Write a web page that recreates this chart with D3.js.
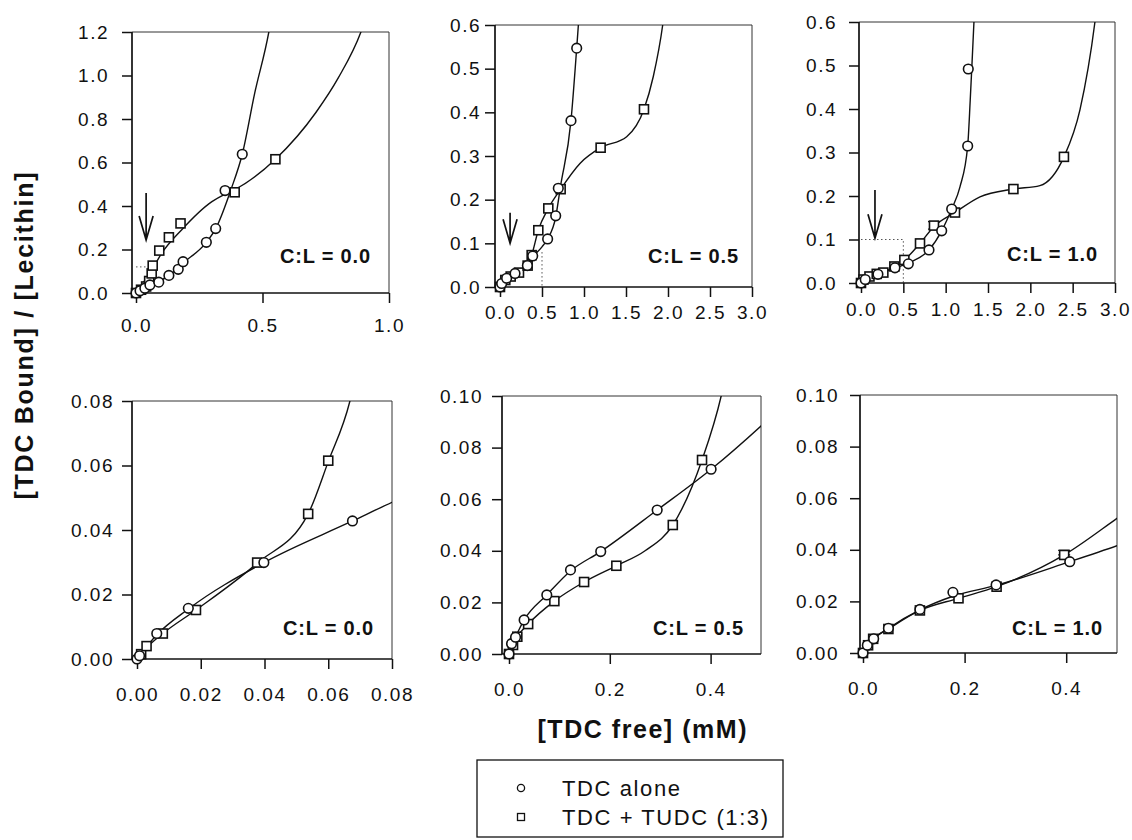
<!DOCTYPE html>
<html><head><meta charset="utf-8">
<script src="https://cdn.jsdelivr.net/npm/d3@7"></script>
<style>
body{margin:0;background:#fff;}
svg text{font-family:"Liberation Sans",Arial,Helvetica,sans-serif;fill:#111;}
</style></head><body>
<svg id="chart" width="1132" height="840"></svg>
<script>
// ---------- DATA ----------
// [TDC free] (mM), [TDC bound]/[Lecithin]
const p1Alone = [[0,0],[0.016,0.01],[0.035,0.022],[0.055,0.037],[0.09,0.05],[0.13,0.081],[0.167,0.109],[0.186,0.144],[0.278,0.233],[0.315,0.296],[0.352,0.471],[0.42,0.638]];
const p1Mixed = [[0,0],[0.02,0.015],[0.04,0.03],[0.052,0.055],[0.062,0.09],[0.066,0.126],[0.092,0.195],[0.13,0.256],[0.176,0.32],[0.39,0.463],[0.551,0.615]];
const p1AloneFit = [[0,0],[0.055,0.035],[0.13,0.08],[0.186,0.138],[0.278,0.233],[0.315,0.296],[0.377,0.481],[0.42,0.638],[0.469,0.918],[0.525,1.2],[0.54,1.3]];
const p1MixedFit = [[0,0],[0.03,0.05],[0.06,0.1],[0.1,0.18],[0.18,0.29],[0.3,0.42],[0.352,0.455],[0.39,0.475],[0.551,0.615],[0.711,0.83],[0.8,0.99],[0.889,1.2],[0.91,1.27]];

const p2Alone = [[0,0],[0.02,0.008],[0.079,0.02],[0.179,0.031],[0.326,0.049],[0.389,0.071],[0.567,0.11],[0.663,0.163],[0.694,0.226],[0.845,0.381],[0.913,0.547]];
const p2Mixed = [[0,0],[0.063,0.016],[0.127,0.024],[0.226,0.033],[0.329,0.049],[0.377,0.073],[0.456,0.13],[0.575,0.18],[0.722,0.224],[1.198,0.319],[1.714,0.407]];
const p2AloneFit = [[0,0],[0.08,0.018],[0.18,0.03],[0.33,0.05],[0.39,0.068],[0.5,0.092],[0.567,0.11],[0.663,0.16],[0.72,0.23],[0.845,0.381],[0.913,0.547],[0.933,0.6],[0.95,0.65]];
const p2MixedFit = [[0,0],[0.063,0.015],[0.127,0.023],[0.226,0.033],[0.329,0.05],[0.377,0.073],[0.456,0.13],[0.575,0.18],[0.722,0.224],[0.952,0.283],[1.198,0.319],[1.508,0.344],[1.714,0.407],[1.825,0.482],[1.937,0.6],[1.97,0.65]];

const p3Alone = [[0,0],[0.05,0.008],[0.2,0.02],[0.401,0.035],[0.559,0.044],[0.803,0.076],[0.953,0.12],[1.071,0.17],[1.26,0.315],[1.267,0.492]];
const p3Mixed = [[0,0],[0.03,0.008],[0.1,0.015],[0.186,0.021],[0.264,0.024],[0.394,0.038],[0.512,0.053],[0.697,0.091],[0.862,0.132],[1.11,0.162],[1.8,0.216],[2.397,0.29]];
const p3AloneFit = [[0,0],[0.05,0.008],[0.2,0.02],[0.401,0.034],[0.559,0.046],[0.803,0.076],[0.953,0.12],[1.071,0.17],[1.169,0.221],[1.26,0.315],[1.29,0.42],[1.31,0.5],[1.334,0.6],[1.35,0.67]];
const p3MixedFit = [[0,0],[0.03,0.008],[0.1,0.015],[0.186,0.021],[0.264,0.025],[0.394,0.038],[0.512,0.053],[0.697,0.091],[0.862,0.13],[1.11,0.162],[1.405,0.198],[1.8,0.216],[2.113,0.224],[2.397,0.29],[2.586,0.398],[2.763,0.6],[2.8,0.66]];

const p4Alone = [[0,0],[0.0008,0.001],[0.0062,0.0079],[0.0161,0.0157],[0.0398,0.0299],[0.0676,0.0428]];
const p4Mixed = [[0.0013,0.0015],[0.003,0.004],[0.0081,0.0079],[0.0185,0.0152],[0.0377,0.0299],[0.0537,0.045],[0.06,0.0615]];
const p4AloneFit = [[0,0],[0.0062,0.0075],[0.0161,0.0155],[0.0398,0.0299],[0.0676,0.0428],[0.08,0.0486],[0.082,0.0495]];
const p4MixedFit = [[0,0],[0.003,0.0035],[0.0081,0.0079],[0.0185,0.0152],[0.0377,0.0297],[0.0537,0.045],[0.06,0.0612],[0.0668,0.08],[0.068,0.085]];

const p5Alone = [[0,0],[0.005,0.004],[0.013,0.0065],[0.03,0.0132],[0.075,0.0229],[0.122,0.0326],[0.182,0.0397],[0.294,0.0558],[0.401,0.0716]];
const p5Mixed = [[0,0],[0.008,0.0035],[0.0165,0.0067],[0.038,0.0116],[0.09,0.0205],[0.149,0.0279],[0.213,0.0342],[0.325,0.05],[0.383,0.0752]];
const p5AloneFit = [[0,0],[0.005,0.004],[0.013,0.0068],[0.03,0.0132],[0.075,0.0229],[0.122,0.0322],[0.182,0.0397],[0.294,0.0558],[0.401,0.0716],[0.5,0.0884],[0.52,0.092]];
const p5MixedFit = [[0,0],[0.008,0.0035],[0.0165,0.0067],[0.038,0.0116],[0.09,0.0205],[0.149,0.0279],[0.213,0.0342],[0.27,0.04],[0.325,0.05],[0.383,0.0752],[0.421,0.1],[0.43,0.108]];

const p6Alone = [[0,0],[0.0085,0.003],[0.021,0.0055],[0.05,0.0096],[0.112,0.0169],[0.177,0.0235],[0.262,0.0264],[0.407,0.0354]];
const p6Mixed = [[0,0],[0.01,0.003],[0.02,0.0055],[0.05,0.0093],[0.112,0.0165],[0.188,0.0212],[0.263,0.0257],[0.396,0.038]];
const p6AloneFit = [[0,0],[0.0085,0.003],[0.021,0.0055],[0.05,0.0096],[0.112,0.0167],[0.177,0.022],[0.262,0.0262],[0.407,0.0354],[0.5,0.0416],[0.52,0.043]];
const p6MixedFit = [[0,0],[0.01,0.003],[0.02,0.0055],[0.05,0.0093],[0.112,0.0165],[0.188,0.0212],[0.263,0.0257],[0.396,0.038],[0.5,0.0522],[0.52,0.055]];

// error bars on mixed series: [x, low, high]
const p3MixedErr = [[0.862,0.124,0.141]];
const p6MixedErr = [[0.396,0.038,0.0398]];

// arrows: [x, yStart, yTip]
const p1Arrow = [0.04,0.46,0.244];
const p2Arrow = [0.12,0.17,0.10];
const p3Arrow = [0.165,0.214,0.103];

// dotted guide lines
const p1Guide = [[0,0.12],[0.07,0.12]];
const p2Guide = [[0.5,0.08],[0.5,0]];
const p3Guide = [[0,0.1],[0.5,0.1],[0.5,0]];

// tick values
const xTicksTopLeft = [0,0.5,1.0];
const xTicksTopWide = [0,0.5,1.0,1.5,2.0,2.5,3.0];
const yTicksTopLeft = [0,0.2,0.4,0.6,0.8,1.0,1.2];
const yTicksTop = [0,0.1,0.2,0.3,0.4,0.5,0.6];
const xTicksBottomLeft = [0,0.02,0.04,0.06,0.08];
const yTicksBottomLeft = [0,0.02,0.04,0.06,0.08];
const xTicksBottom = [0,0.2,0.4];
const yTicksBottom = [0,0.02,0.04,0.06,0.08,0.10];

const clLabels = ["C:L = 0.0","C:L = 0.5","C:L = 1.0","C:L = 0.0","C:L = 0.5","C:L = 1.0"];
const seriesNames = ["TDC alone","TDC + TUDC (1:3)"];
const yTitle = "[TDC Bound] / [Lecithin]";
const xTitle = "[TDC free] (mM)";

// ---------- LAYOUT ----------
const panels = [
  {alone:p1Alone,mixed:p1Mixed,aFit:p1AloneFit,mFit:p1MixedFit,xT:xTicksTopLeft,yT:yTicksTopLeft,xF:".1f",yF:".1f",xMax:1.0,yMax:1.2,
   axisX:132,x0:136,right:389,top:32,bottom:293,yPad:13,xPad:16,lx:370,ly:263,arrow:p1Arrow,guide:p1Guide,err:null},
  {alone:p2Alone,mixed:p2Mixed,aFit:p2AloneFit,mFit:p2MixedFit,xT:xTicksTopWide,yT:yTicksTop,xF:".1f",yF:".1f",xMax:3.0,yMax:0.6,
   axisX:495,x0:500,right:752,top:25,bottom:287,yPad:4,xPad:9,lx:738,ly:263,arrow:p2Arrow,guide:p2Guide,err:null},
  {alone:p3Alone,mixed:p3Mixed,aFit:p3AloneFit,mFit:p3MixedFit,xT:xTicksTopWide,yT:yTicksTop,xF:".1f",yF:".1f",xMax:3.0,yMax:0.6,
   axisX:859,x0:861,right:1115,top:22,bottom:283,yPad:12,xPad:10,lx:1097,ly:261,arrow:p3Arrow,guide:p3Guide,err:p3MixedErr},
  {alone:p4Alone,mixed:p4Mixed,aFit:p4AloneFit,mFit:p4MixedFit,xT:xTicksBottomLeft,yT:yTicksBottomLeft,xF:".2f",yF:".2f",xMax:0.08,yMax:0.08,
   axisX:132,x0:137,right:392,top:401,bottom:659,yPad:8,xPad:19,lx:373,ly:635,arrow:null,guide:null,err:null},
  {alone:p5Alone,mixed:p5Mixed,aFit:p5AloneFit,mFit:p5MixedFit,xT:xTicksBottom,yT:yTicksBottom,xF:".1f",yF:".2f",xMax:0.5,yMax:0.10,
   axisX:502,x0:509,right:761,top:396,bottom:654,yPad:9,xPad:19,lx:743,ly:635,arrow:null,guide:null,err:null},
  {alone:p6Alone,mixed:p6Mixed,aFit:p6AloneFit,mFit:p6MixedFit,xT:xTicksBottom,yT:yTicksBottom,xF:".1f",yF:".2f",xMax:0.5,yMax:0.10,
   axisX:860,x0:863,right:1117,top:395,bottom:653,yPad:11,xPad:19,lx:1102,ly:635,arrow:null,guide:null,err:p6MixedErr}
];

const svg = d3.select("#chart");
const defs = svg.append("defs");
const INK = "#111";

function drawCircle(g, cx, cy, r){
  g.append("circle").attr("cx",cx).attr("cy",cy).attr("r",r)
    .attr("fill","#fff").attr("stroke",INK).attr("stroke-width",1.6);
}
function drawSquare(g, cx, cy, s){
  g.append("rect").attr("x",cx-s/2).attr("y",cy-s/2).attr("width",s).attr("height",s)
    .attr("fill","#fff").attr("stroke",INK).attr("stroke-width",1.6);
}

panels.forEach((p,i)=>{
  const x = d3.scaleLinear().domain([0,p.xMax]).range([p.x0,p.right]);
  const y = d3.scaleLinear().domain([0,p.yMax]).range([p.bottom,p.top]);
  const g = svg.append("g");

  defs.append("clipPath").attr("id","clip"+i).append("rect")
    .attr("x",p.axisX).attr("y",p.top).attr("width",p.right-p.axisX).attr("height",p.bottom-p.top);

  // frame top & right
  g.append("line").attr("x1",p.axisX).attr("x2",p.right).attr("y1",p.top).attr("y2",p.top)
    .attr("stroke","#333").attr("stroke-width",1);
  g.append("line").attr("x1",p.right).attr("x2",p.right).attr("y1",p.top).attr("y2",p.bottom)
    .attr("stroke","#333").attr("stroke-width",1);

  // dotted guides
  if(p.guide){
    g.append("path").attr("d",d3.line().x(d=>x(d[0])).y(d=>y(d[1]))(p.guide))
      .attr("fill","none").attr("stroke","#555").attr("stroke-width",1).attr("stroke-dasharray","1.5,2.5");
  }

  // fitted curves
  const line = d3.line().x(d=>x(d[0])).y(d=>y(d[1])).curve(d3.curveMonotoneX);
  const cg = g.append("g").attr("clip-path",`url(#clip${i})`);
  [p.aFit,p.mFit].forEach(f=>{
    cg.append("path").attr("d",line(f)).attr("fill","none").attr("stroke",INK).attr("stroke-width",1.4);
  });

  // axes
  const ya = d3.axisLeft(y).tickValues(p.yT).tickFormat(d3.format(p.yF)).tickSize(10).tickPadding(p.yPad);
  const yg = g.append("g").attr("transform",`translate(${p.axisX},0)`).call(ya);
  const xa = d3.axisBottom(x).tickValues(p.xT).tickFormat(d3.format(p.xF)).tickSize(10).tickPadding(p.xPad);
  const xg = g.append("g").attr("transform",`translate(0,${p.bottom})`).call(xa);
  [yg,xg].forEach(a=>{
    a.select(".domain").remove();
    a.attr("font-size",null).attr("font-family",null);
    a.selectAll(".tick line").attr("stroke",INK).attr("stroke-width",1.5);
    a.selectAll(".tick text").style("font-size","19px").style("letter-spacing","1.5px").attr("fill",INK);
  });
  g.append("line").attr("x1",p.axisX).attr("x2",p.axisX).attr("y1",p.top).attr("y2",p.bottom)
    .attr("stroke",INK).attr("stroke-width",1.7);
  g.append("line").attr("x1",p.axisX).attr("x2",p.right).attr("y1",p.bottom).attr("y2",p.bottom)
    .attr("stroke",INK).attr("stroke-width",1.7);

  // error bars
  if(p.err){
    p.err.forEach(e=>{
      const ex = x(e[0]);
      g.append("path").attr("d",`M${ex},${y(e[1])}V${y(e[2])}M${ex-6},${y(e[2])}H${ex+6}M${ex-6},${y(e[1])}H${ex+6}`)
        .attr("stroke",INK).attr("stroke-width",1.3).attr("fill","none");
    });
  }

  // markers
  const mg = g.append("g");
  p.mixed.forEach(d=>drawSquare(mg, x(d[0]), y(d[1]), 9));
  p.alone.forEach(d=>drawCircle(mg, x(d[0]), y(d[1]), 4.8));

  // arrow
  if(p.arrow){
    const ax = x(p.arrow[0]), y0 = y(p.arrow[1]), y1 = y(p.arrow[2]);
    g.append("path").attr("d",`M${ax},${y0}V${y1}M${ax-7},${y1-24}L${ax},${y1}L${ax+7},${y1-24}`)
      .attr("fill","none").attr("stroke",INK).attr("stroke-width",1.7);
  }

  // C:L label
  g.append("text").attr("x",p.lx).attr("y",p.ly).attr("text-anchor","end")
    .attr("textLength",90).attr("lengthAdjust","spacing")
    .style("font-size","20px").style("font-weight","bold").text(clLabels[i]);
});

// axis titles
svg.append("text").attr("transform","translate(33,336) rotate(-90)").attr("text-anchor","middle")
  .attr("textLength",327).attr("lengthAdjust","spacing")
  .style("font-size","25px").style("font-weight","bold").text(yTitle);
svg.append("text").attr("x",642).attr("y",738).attr("text-anchor","middle")
  .attr("textLength",209).attr("lengthAdjust","spacing")
  .style("font-size","25px").style("font-weight","bold").text(xTitle);

// legend
const lg = svg.append("g");
lg.append("rect").attr("x",477).attr("y",760).attr("width",306).attr("height",77)
  .attr("fill","#fff").attr("stroke",INK).attr("stroke-width",1.3);
const legY = [788,817];
const legW = [118,206];
seriesNames.forEach((n,k)=>{
  if(k===0){
    lg.append("circle").attr("cx",521).attr("cy",legY[k]).attr("r",3.6).attr("fill","#fff").attr("stroke",INK).attr("stroke-width",1.3);
  } else {
    lg.append("rect").attr("x",517.5).attr("y",legY[k]-3.5).attr("width",7).attr("height",7).attr("fill","#fff").attr("stroke",INK).attr("stroke-width",1.3);
  }
  lg.append("text").attr("x",562).attr("y",legY[k]+8).attr("textLength",legW[k]).attr("lengthAdjust","spacing")
    .style("font-size","22px").text(n);
});
</script>
</body></html>
